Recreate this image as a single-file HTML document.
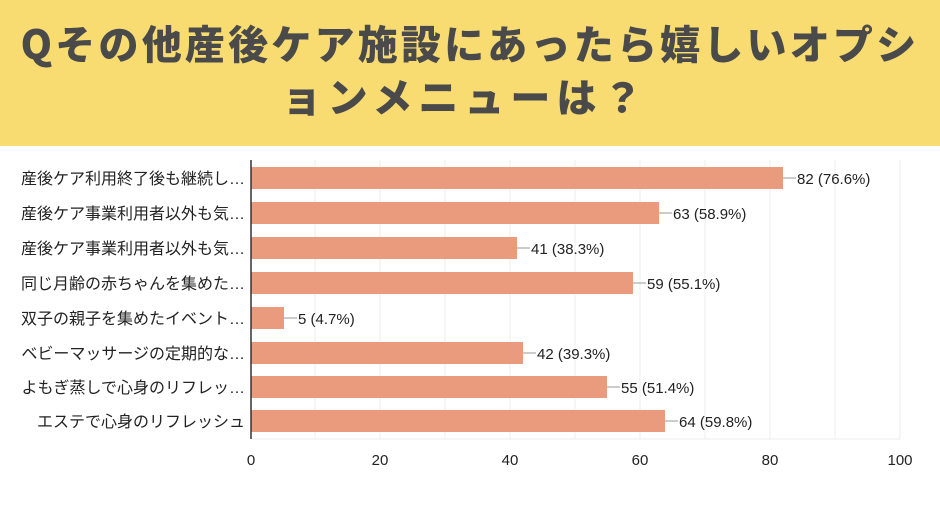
<!DOCTYPE html>
<html><head><meta charset="utf-8"><style>
body{margin:0;width:940px;height:513px;overflow:hidden;background:#fff;font-family:"Liberation Sans","Noto Sans CJK JP",sans-serif}
.hd{position:absolute;left:0;top:0;width:940px;height:146px;background:#F8DC72}
.t{position:absolute;left:0;width:940px;text-align:center;color:#4a4a4a;font-family:"Noto Sans CJK JP",sans-serif;font-weight:900;font-size:40px;white-space:nowrap}
</style></head><body>
<div class="hd"></div>
<div class="t" style="top:13px;letter-spacing:3.2px">Qその他産後ケア施設にあったら嬉しいオプシ</div>
<div class="t" style="top:66px;letter-spacing:6px;padding-right:10px;box-sizing:border-box">ョンメニューは？</div>
<svg width="940" height="513" style="position:absolute;left:0;top:0" font-family="Liberation Sans, Noto Sans CJK JP, sans-serif">
<g stroke="#ececec" stroke-width="1">
<line x1="315" y1="160" x2="315" y2="439"/><line x1="380" y1="160" x2="380" y2="439"/><line x1="445" y1="160" x2="445" y2="439"/><line x1="510" y1="160" x2="510" y2="439"/><line x1="575" y1="160" x2="575" y2="439"/><line x1="640" y1="160" x2="640" y2="439"/><line x1="705" y1="160" x2="705" y2="439"/><line x1="770" y1="160" x2="770" y2="439"/><line x1="835" y1="160" x2="835" y2="439"/><line x1="900" y1="160" x2="900" y2="439"/>
<line x1="251" y1="439" x2="900" y2="439"/>
</g>
<g fill="#EA9A7D">
<rect x="251" y="167" width="532" height="22"/>
<rect x="251" y="202" width="408" height="22"/>
<rect x="251" y="237" width="266" height="22"/>
<rect x="251" y="272" width="382" height="22"/>
<rect x="251" y="307" width="33" height="22"/>
<rect x="251" y="342" width="272" height="22"/>
<rect x="251" y="376" width="356" height="22"/>
<rect x="251" y="410" width="414" height="22"/>
</g>
<line x1="251" y1="160" x2="251" y2="439" stroke="#333" stroke-width="1.5"/>
<g stroke="#999" stroke-width="1">
<line x1="783" y1="178" x2="796" y2="178"/><line x1="659" y1="213" x2="672" y2="213"/><line x1="517" y1="248" x2="530" y2="248"/><line x1="633" y1="283" x2="646" y2="283"/><line x1="284" y1="318" x2="297" y2="318"/><line x1="523" y1="353" x2="536" y2="353"/><line x1="607" y1="387" x2="620" y2="387"/><line x1="665" y1="421" x2="678" y2="421"/>
</g>
<g font-size="15" fill="#222">
<text x="797" y="184">82 (76.6%)</text><text x="673" y="219">63 (58.9%)</text><text x="531" y="254">41 (38.3%)</text><text x="647" y="289">59 (55.1%)</text><text x="298" y="324">5 (4.7%)</text><text x="537" y="359">42 (39.3%)</text><text x="621" y="393">55 (51.4%)</text><text x="679" y="427">64 (59.8%)</text>
</g>
<g font-size="16" fill="#222" text-anchor="end">
<text x="245" y="184">産後ケア利用終了後も継続し…</text>
<text x="245" y="219">産後ケア事業利用者以外も気…</text>
<text x="245" y="254">産後ケア事業利用者以外も気…</text>
<text x="245" y="289">同じ月齢の赤ちゃんを集めた…</text>
<text x="245" y="324">双子の親子を集めたイベント…</text>
<text x="245" y="359">ベビーマッサージの定期的な…</text>
<text x="245" y="393">よもぎ蒸しで心身のリフレッ…</text>
<text x="245" y="427">エステで心身のリフレッシュ</text>
</g>
<g font-size="15" fill="#222" text-anchor="middle">
<text x="251" y="465">0</text><text x="380" y="465">20</text><text x="510" y="465">40</text><text x="640" y="465">60</text><text x="770" y="465">80</text><text x="900" y="465">100</text>
</g>
</svg>
</body></html>
